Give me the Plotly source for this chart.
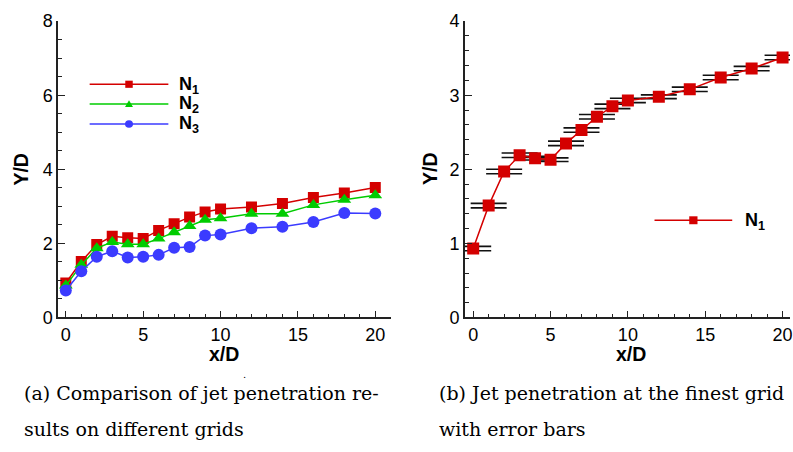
import plotly.graph_objects as go

W, H = 793, 452

# ---- data ----
x_vals = [0, 1, 2, 3, 4, 5, 6, 7, 8, 9, 10, 12, 14, 16, 18, 20]
n1 = [0.93, 1.51, 1.97, 2.19, 2.15, 2.13, 2.35, 2.53, 2.71, 2.85, 2.93, 2.98, 3.08, 3.24, 3.36, 3.51]
n2 = [0.86, 1.42, 1.87, 2.04, 1.98, 1.98, 2.13, 2.30, 2.47, 2.64, 2.68, 2.80, 2.80, 3.04, 3.18, 3.30]
n3 = [0.73, 1.25, 1.64, 1.79, 1.62, 1.64, 1.69, 1.88, 1.90, 2.21, 2.24, 2.41, 2.45, 2.58, 2.82, 2.81]
n1_err = [0.03, 0.03, 0.03, 0.03, 0.025, 0.025, 0.03, 0.03, 0.03, 0.03, 0.03, 0.025, 0.03, 0.03, 0.03, 0.03]
series_names = ["N<sub>1</sub>", "N<sub>2</sub>", "N<sub>3</sub>"]
caption_a = ["(a) Comparison of jet penetration re-", "sults on different grids"]
caption_b = ["(b) Jet penetration at the finest grid", "with error bars"]

RED, GREEN, BLUE = "#d40000", "#00cc00", "#3b3bff"
SANS = "Liberation Sans, Arial, sans-serif"
SERIF = "DejaVu Serif, serif"

def px2x(px):
    return px / W

def px2y(py):
    return 1 - py / H

fig = go.Figure()

# left panel
fig.add_trace(go.Scatter(x=x_vals, y=n1, mode="lines+markers", xaxis="x", yaxis="y",
                         line=dict(color=RED, width=1.5),
                         marker=dict(symbol="square", size=11, color=RED), showlegend=False))
fig.add_trace(go.Scatter(x=x_vals, y=n2, mode="lines+markers", xaxis="x", yaxis="y",
                         line=dict(color=GREEN, width=1.5),
                         marker=dict(symbol="triangle-up", size=12, color=GREEN), showlegend=False))
fig.add_trace(go.Scatter(x=x_vals, y=n3, mode="lines+markers", xaxis="x", yaxis="y",
                         line=dict(color=BLUE, width=1.5),
                         marker=dict(symbol="circle", size=12, color=BLUE), showlegend=False))

# right panel
fig.add_trace(go.Scatter(x=x_vals, y=n1, mode="lines+markers", xaxis="x2", yaxis="y2",
                         line=dict(color=RED, width=1.5),
                         marker=dict(symbol="square", size=12, color=RED),
                         error_y=dict(type="data", array=n1_err, visible=True, color="#111111",
                                      thickness=1.6, width=18),
                         showlegend=False))

ydom = [px2y(321.7), px2y(11.7)]
axis_common = dict(showline=True, linewidth=1.5, linecolor="#222222", showgrid=False, zeroline=False,
                   ticks="inside", tickcolor="#222222", tickwidth=1.3, ticklabeloverflow="allow",
                   tickfont=dict(family=SANS, size=18, color="#000000"))

fig.update_layout(
    width=W, height=H, margin=dict(l=0, r=0, t=0, b=0),
    paper_bgcolor="white", plot_bgcolor="white",
    xaxis=dict(domain=[px2x(58.3), px2x(392.7)], range=[-0.5, 21.03], anchor="y",
               tick0=0, dtick=5, ticklen=7,
               minor=dict(dtick=1, ticklen=4, ticks="inside", tickcolor="#222222", tickwidth=1.2),
               **axis_common),
    yaxis=dict(domain=ydom, range=[0, 8], anchor="x", tick0=0, dtick=2, ticklen=7,
               minor=dict(dtick=0.5, ticklen=4, ticks="inside", tickcolor="#222222", tickwidth=1.2),
               **axis_common),
    xaxis2=dict(domain=[px2x(466.7), 1.0], range=[-0.534, 20.48], anchor="y2",
                tick0=0, dtick=5, ticklen=7,
                minor=dict(dtick=1, ticklen=4, ticks="inside", tickcolor="#222222", tickwidth=1.2),
                **axis_common),
    yaxis2=dict(domain=ydom, range=[0, 4], anchor="x2", tick0=0, dtick=1, ticklen=7,
                minor=dict(dtick=0.2, ticklen=4, ticks="inside", tickcolor="#222222", tickwidth=1.2),
                **axis_common),
)

annotations = []
shapes = []

# axis titles
for cx, cy, txt, ang in [(225, 360, "x/D", 0), (633, 360, "x/D", 0), (21, 166, "Y/D", -90), (431, 166, "Y/D", -90)]:
    annotations.append(dict(x=px2x(cx), y=px2y(cy), xref="paper", yref="paper", text="<b>%s</b>" % txt,
                            showarrow=False, textangle=ang, xanchor="center", yanchor="middle",
                            borderpad=0, font=dict(family=SANS, size=19.5, color="#000000")))

# legends (drawn manually)
def legend_item(x0, x1, xm, y, color, symbol, name, tx, msize):
    shapes.append(dict(type="line", xref="paper", yref="paper", x0=px2x(x0), x1=px2x(x1),
                       y0=px2y(y), y1=px2y(y), line=dict(color=color, width=1.5)))
    h = msize / 2
    if symbol == "square":
        shapes.append(dict(type="rect", xref="paper", yref="paper", x0=px2x(xm - h), x1=px2x(xm + h),
                           y0=px2y(y + h), y1=px2y(y - h), fillcolor=color, line=dict(width=0)))
    elif symbol == "circle":
        shapes.append(dict(type="circle", xref="paper", yref="paper", x0=px2x(xm - h), x1=px2x(xm + h),
                           y0=px2y(y + h), y1=px2y(y - h), fillcolor=color, line=dict(width=0)))
    else:
        path = "M %f %f L %f %f L %f %f Z" % (px2x(xm - h), px2y(y + h * 0.8), px2x(xm + h), px2y(y + h * 0.8),
                                                px2x(xm), px2y(y - h * 1.0))
        shapes.append(dict(type="path", xref="paper", yref="paper", path=path, fillcolor=color, line=dict(width=0)))
    annotations.append(dict(x=px2x(tx), y=px2y(y + 1), xref="paper", yref="paper", text="<b>%s</b>" % name,
                            showarrow=False, xanchor="left", yanchor="middle",
                            font=dict(family=SANS, size=18, color="#000000")))

legend_item(90, 169, 129.5, 77.7, RED, "square", series_names[0], 178, 7.5)
legend_item(90, 169, 129.5, 98.3, GREEN, "triangle", series_names[1], 178, 8)
legend_item(90, 169, 129.5, 119.3, BLUE, "circle", series_names[2], 178, 8)
legend_item(657, 735, 696, 220, RED, "square", series_names[0], 746, 8.3)

# captions
for i, line in enumerate(caption_a):
    annotations.append(dict(x=px2x(22), y=px2y(401 + 37 * i), xref="paper", yref="paper", text=line,
                            showarrow=False, xanchor="left", yanchor="middle",
                            font=dict(family=SERIF, size=19, color="#000000")))
for i, line in enumerate(caption_b):
    annotations.append(dict(x=px2x(439), y=px2y(401 + 37 * i), xref="paper", yref="paper", text=line,
                            showarrow=False, xanchor="left", yanchor="middle",
                            font=dict(family=SERIF, size=19, color="#000000")))
# stray dot in the original
annotations.append(dict(x=px2x(245), y=px2y(381), xref="paper", yref="paper", text=".",
                        showarrow=False, xanchor="center", yanchor="middle",
                        font=dict(family=SERIF, size=10, color="#000000")))

fig.update_layout(annotations=annotations, shapes=shapes)
fig.write_html("out.html")
